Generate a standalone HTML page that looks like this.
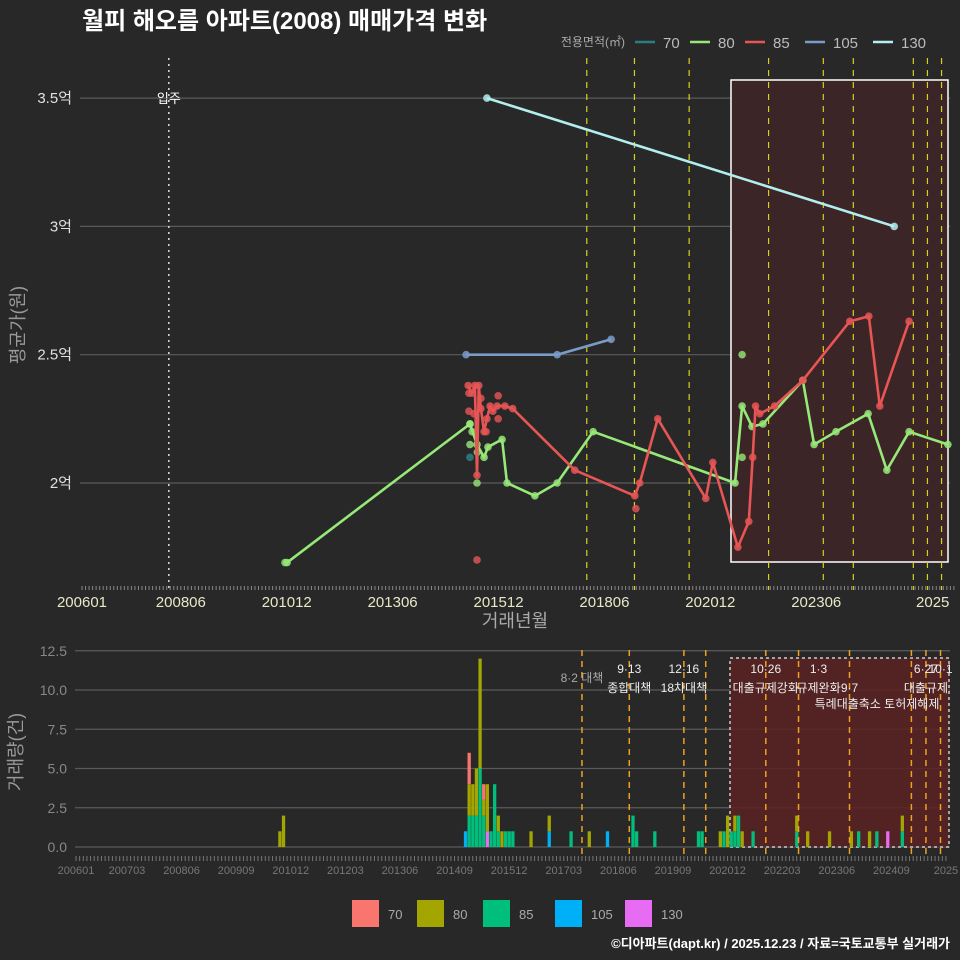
<!DOCTYPE html>
<html><head><meta charset="utf-8"><style>
html,body{margin:0;padding:0;background:#282828;}
svg{display:block;font-family:"Liberation Sans","Noto Sans CJK KR",sans-serif;}
</style></head><body>
<svg id="c" width="960" height="960" viewBox="0 0 960 960">
<rect x="0" y="0" width="960" height="960" fill="#282828"/>
<text x="82" y="29" fill="#ffffff" font-size="24" font-weight="bold">월피 해오름 아파트(2008) 매매가격 변화</text>
<g id="main"></g><g id="bot"></g>
<text x="950" y="948" fill="#ffffff" font-size="13" font-weight="bold" text-anchor="end">©디아파트(dapt.kr) / 2025.12.23 / 자료=국토교통부 실거래가</text>
</svg>
<script>
// ---- data (month index from 200601) ----
const types=['70','80','85','105','130'];
const lineColors=['#2a8080','#96e878','#e85555','#7a9cc8','#b2eeee'];
const barColors=['#f8766d','#a3a500','#00bf7d','#00b0f6','#e76bf3'];
const priceTicks=[2,2.5,3,3.5];
const priceTickLabels=['2억','2.5억','3억','3.5억'];
const mainXTicks=[0,28,58,88,118,148,178,208,241];
const mainXLabels=['200601','200806','201012','201306','201512','201806','202012','202306','2025'];
const t70=[109.9]; const v70=[2.1];
const t80=[58.1,109.9,111.9,113.9,115,119,120.4,128.3,134.6,144.8,185,187,189.8,192.9,204.2,207.4,213.6,222.7,228,234.3,245.3];
const v80=[1.69,2.23,2.15,2.1,2.14,2.17,2.0,1.95,2.0,2.2,2.0,2.3,2.22,2.23,2.4,2.15,2.2,2.27,2.05,2.2,2.15];
const t80pts=[57.5,109.9,109.9,111.9,187,187,110.5,112];
const v80pts=[1.69,2.23,2.15,2.0,2.5,2.1,2.2,2.12];
const t85=[109.4,110.5,111.3,111.9,112.4,113,113.9,114.7,115.6,116.4,117.6,119.8,122,139.6,156.6,158,163.1,176.7,178.7,185.8,188.9,190,190.8,192,196.2,204.2,217.5,222.9,226,234.3];
const v85=[2.38,2.35,2.38,2.03,2.38,2.29,2.2,2.25,2.3,2.28,2.3,2.3,2.29,2.05,1.95,2.0,2.25,1.94,2.08,1.75,1.85,2.1,2.3,2.27,2.3,2.4,2.63,2.65,2.3,2.63];
const t85pts=[111.9,156.9,109.6,109.6,117.9,117.9,114.5,113,111];
const v85pts=[1.7,1.9,2.28,2.35,2.34,2.25,2.2,2.33,2.27];
const t105=[108.8,134.6,149.9]; const v105=[2.5,2.5,2.56];
const t130=[114.7,230.1]; const v130=[3.5,3.0];
const eventMain=[143,156.5,172,194.5,210,218.5,235.5,239.5,243.5];
const moveIn=24.6;
// volume bars
const barT=[56,57,107,108,109,110,111,112,113,114,115,116,117,118,119,120,125,130,136,141,146,153,154,159,171,172,177,178,179,180,181,182,183,186,198,201,207,213,215,218,220,223,227,245];
const bar70=[0,0,0,2,0,0,0,1,0,0,0,0,0,0,0,0,0,0,0,0,0,0,0,0,0,0,0,0,0,0,0,0,0,0,0,0,0,0,0,0,0,0,0,0];
const bar80=[1,2,0,2,2,3,7,1,3,0,0,1,1,0,0,0,1,1,0,1,0,0,0,0,0,0,1,0,2,0,1,0,1,0,1,1,1,1,0,1,0,0,1,1];
const bar85=[0,0,0,2,2,2,5,2,0,1,4,1,0,1,1,1,0,0,1,0,0,2,1,1,1,1,0,1,0,1,1,2,0,1,1,0,0,0,1,0,1,0,1,0];
const bar105=[0,0,1,0,0,0,0,0,0,0,0,0,0,0,0,0,0,1,0,0,1,0,0,0,0,0,0,0,0,0,0,0,0,0,0,0,0,0,0,0,0,0,0,0];
const bar130=[0,0,0,0,0,0,0,0,1,0,0,0,0,0,0,0,0,0,0,0,0,0,0,0,0,0,0,0,0,0,0,0,0,0,0,0,0,0,0,0,0,1,0,0];
const volTicks=[0,2.5,5,7.5,10,12.5];
const volTickLabels=['0.0','2.5','5.0','7.5','10.0','12.5'];
const botXTicks=[0,14,29,44,59,74,89,104,119,134,149,164,179,194,209,224,239];
const botXLabels=['200601','200703','200806','200909','201012','201203','201306','201409','201512','201703','201806','201909','202012','202203','202306','202409','2025'];
const eventBot=[139,152,167,173,189.5,198.5,212.5,229.5,233.5,237.5];
const eventLabels=[[139,'8·2 대책','',0],[152,'9·13','종합대책',1],[167,'12·16','18차대책',1],[189.5,'10·26','대출규제강화',1],[204,'1·3','규제완화',1],[212.5,'','9·7',1],[233.5,'6·27','대출규제',1],[237.5,'10·1','',1]];

// ---- axes ----
const NS='http://www.w3.org/2000/svg';
function mk(tag,attrs,parent,txt){const e=document.createElementNS(NS,tag);for(const k in attrs)e.setAttribute(k,attrs[k]);if(txt!==undefined)e.textContent=txt;parent.appendChild(e);return e;}
const mx=t=>82+t*3.53;
const my=v=>483-(v-2)*256.6;
const bx=t=>76+t*3.64;
const by=v=>847-v*15.7;
const M=document.getElementById('main'), B=document.getElementById('bot');

priceTicks.forEach((v,i)=>{
 const l=mk('line',{x1:80,x2:950,y1:my(v),y2:my(v),stroke:'#5a5a5a','stroke-width':1.2},M);
 
 
 const t=mk('text',{x:72,y:my(v)+5,fill:'#e0e0e0','font-size':15,'text-anchor':'end'},M,priceTickLabels[i]);
 
 
});
const sr=mk('rect',{x:731,y:80,width:217,height:482,fill:'#3c2527',stroke:'#ffffff','stroke-width':1.5},M);


const ml=mk('line',{x1:mx(moveIn),x2:mx(moveIn),y1:58,y2:590,stroke:'#dddddd','stroke-width':1.5,'stroke-dasharray':'2,4'},M);


const mt=mk('text',{x:mx(moveIn),y:103,fill:'#ffffff','font-size':13,'text-anchor':'middle'},M,'입주');


eventMain.forEach(t=>{
 const l=mk('line',{x1:mx(t),x2:mx(t),y1:58,y2:590,stroke:'#d8d020','stroke-width':1.2,'stroke-dasharray':'6,6'},M);
 
 
});
for(let t=0;t<=247;t++){
 const l=mk('line',{x1:mx(t),x2:mx(t),y1:586,y2:590,stroke:'#888','stroke-width':1},M);
 
 
}
mainXTicks.forEach((t,i)=>{
 const e=mk('text',{x:mx(t),y:607,fill:'#e8e8c8','font-size':15,'text-anchor':'middle'},M,mainXLabels[i]);
 
 
});
const xt=mk('text',{x:515,y:627,fill:'#aaaaaa','font-size':18,'text-anchor':'middle'},M,'거래년월');


const yt=mk('text',{x:0,y:0,fill:'#999999','font-size':18,'text-anchor':'middle',transform:'translate(24,325) rotate(-90)'},M,'평균가(원)');



const series=[[t70,v70,[],[]],[t80,v80,t80pts,v80pts],[t85,v85,t85pts,v85pts],[t105,v105,[],[]],[t130,v130,[],[]]];
series.forEach((s,i)=>{
 const g=mk('g',{},M);
 
 
 if(s[0].length>1){
  const p=mk('polyline',{points:s[0].map((t,j)=>mx(t)+','+my(s[1][j])).join(' '),fill:'none',stroke:lineColors[i],'stroke-width':2.6,'stroke-linejoin':'round'},g);
  
  
 }
 s[0].forEach((t,j)=>{
  const c=mk('circle',{cx:mx(t),cy:my(s[1][j]),r:3.8,fill:lineColors[i],opacity:0.85},g);
  
  
 });
 s[2].forEach((t,j)=>{
  const c=mk('circle',{cx:mx(t),cy:my(s[3][j]),r:3.8,fill:lineColors[i],opacity:0.8},g);
  
  
 });
});
const lt=mk('text',{x:625,y:46,fill:'#aaaaaa','font-size':12,'text-anchor':'end'},M,'전용면적(㎡)');


const legX=[635,690,745,805,873];
types.forEach((ty,i)=>{
 const g=mk('g',{},M);
 
 
 mk('line',{x1:legX[i],x2:legX[i]+20,y1:42,y2:42,stroke:lineColors[i],'stroke-width':2.5},g);
 mk('text',{x:legX[i]+28,y:48,fill:'#bbbbbb','font-size':15},g,ty);
});

// ---- bottom chart ----
volTicks.forEach((v,i)=>{
 const l=mk('line',{x1:75,x2:950,y1:by(v),y2:by(v),stroke:'#5a5a5a','stroke-width':1.2},B);
 
 
 const t=mk('text',{x:67,y:by(v)+5,fill:'#888888','font-size':14,'text-anchor':'end'},B,volTickLabels[i]);
 
 
});
const br=mk('rect',{x:730,y:658,width:219,height:189,fill:'#5a2222','fill-opacity':0.85,stroke:'#cccccc','stroke-width':1.5,'stroke-dasharray':'3,3'},B);


const stacks=[bar70,bar80,bar85,bar105,bar130];
barT.forEach((t,j)=>{
 let base=0;
 [4,3,2,1,0].forEach(k=>{
  const v=stacks[k][j]; if(!v) return;
  const r=mk('rect',{x:bx(t)-1.6,y:by(base+v),width:3.3,height:by(base)-by(base+v),fill:barColors[k]},B);
  
  
  base+=v;
 });
});
eventBot.forEach(t=>{
 const l=mk('line',{x1:bx(t),x2:bx(t),y1:650,y2:858,stroke:'#f0a020','stroke-width':1.5,'stroke-dasharray':'6,5'},B);
 
 
});
eventLabels.forEach(e=>{
 const c=e[3]?'#eeeeee':'#aaaaaa';
 if(e[1]){const a=mk('text',{x:bx(e[0]),y:e[3]?673:682,fill:c,'font-size':12,'text-anchor':'middle'},B,e[1]);
 
 }
 if(e[2]){const b=mk('text',{x:bx(e[0]),y:692,fill:c,'font-size':12,'text-anchor':'middle'},B,e[2]);
 
 }
});
const ex=mk('text',{x:877,y:708,fill:'#eeeeee','font-size':12,'text-anchor':'middle'},B,'특례대출축소 토허제해제');


for(let t=0;t<=239;t++){
 const l=mk('line',{x1:bx(t),x2:bx(t),y1:856,y2:861,stroke:'#777','stroke-width':1},B);
 
 
}
botXTicks.forEach((t,i)=>{
 const e=mk('text',{x:bx(t),y:874,fill:'#777777','font-size':11,'text-anchor':'middle'},B,botXLabels[i]);
 
 
});
const vt=mk('text',{x:0,y:0,fill:'#999999','font-size':18,'text-anchor':'middle',transform:'translate(22,752) rotate(-90)'},B,'거래량(건)');


const blX=[352,417,483,555,625];
types.forEach((ty,i)=>{
 const g=mk('g',{},B);
 
 
 mk('rect',{x:blX[i],y:900,width:27,height:27,fill:barColors[i]},g);
 mk('text',{x:blX[i]+36,y:919,fill:'#aaaaaa','font-size':13},g,ty);
});
</script>
</body></html>
